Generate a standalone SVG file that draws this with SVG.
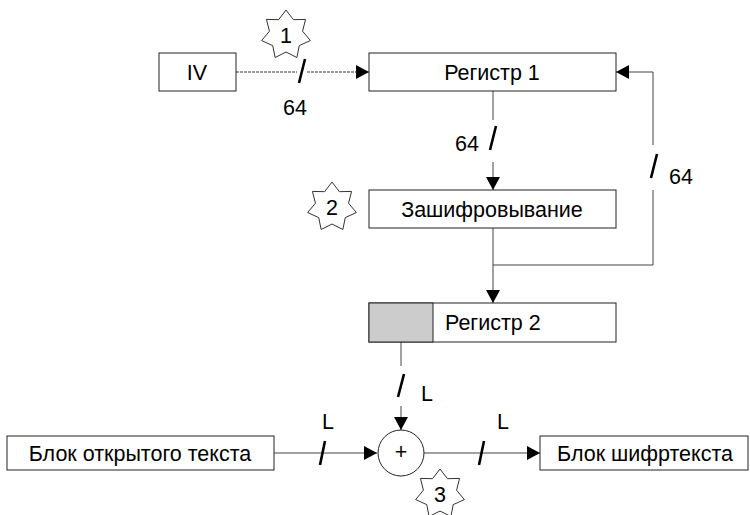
<svg xmlns="http://www.w3.org/2000/svg" width="750" height="515" viewBox="0 0 750 515">
<style>
.box{fill:#fff;stroke:#222;stroke-width:1}
.ln{fill:none;stroke:#444;stroke-width:1}
.dash{fill:none;stroke:#333;stroke-width:1;stroke-dasharray:3,1}
.sl{stroke:#000;stroke-width:2.6;stroke-linecap:butt}
.t{font-family:"Liberation Sans",Arial,sans-serif;font-size:21.5px;fill:#000}
.star{fill:#fff;stroke:#333;stroke-width:1}
</style>
<defs>
<marker id="ah" markerWidth="14" markerHeight="14" viewBox="0 0 14 14" refX="13" refY="7" orient="auto" markerUnits="userSpaceOnUse">
<path d="M0,0 L13,7 L0,14 Z" fill="#000"/>
</marker>
<polygon id="star" points="0,-25 7.38,-15.32 19.55,-15.59 16.57,-3.78 24.37,5.56 13.29,10.6 10.85,22.53 0,17 -10.85,22.53 -13.29,10.6 -24.37,5.56 -16.57,-3.78 -19.55,-15.59 -7.38,-15.32"/>
</defs>
<rect width="750" height="515" fill="#fff"/>

<g id="connectors">
<line class="dash" x1="236" y1="72" x2="297" y2="72"/>
<line class="dash" x1="307" y1="72" x2="369" y2="72" marker-end="url(#ah)"/>
<line class="sl" x1="305" y1="59" x2="299" y2="83"/>
<text class="t" x="295" y="115" text-anchor="middle">64</text>

<line class="ln" x1="493" y1="91" x2="493" y2="120"/>
<line class="sl" x1="496" y1="126" x2="490" y2="150"/>
<line class="ln" x1="493" y1="162" x2="493" y2="190" marker-end="url(#ah)"/>
<text class="t" x="479" y="151" text-anchor="end">64</text>

<line class="ln" x1="493" y1="228" x2="493" y2="303" marker-end="url(#ah)"/>
<polyline class="ln" points="493,265 653,265 653,190"/>
<line class="sl" x1="657" y1="154" x2="651" y2="178"/>
<polyline class="ln" points="653,145 653,72 616,72" marker-end="url(#ah)"/>
<text class="t" x="669" y="184">64</text>

<line class="ln" x1="401" y1="342" x2="401" y2="366"/>
<line class="sl" x1="404" y1="374" x2="398" y2="397"/>
<line class="ln" x1="401" y1="406" x2="401" y2="430" marker-end="url(#ah)"/>
<text class="t" x="421" y="401">L</text>

<polyline class="ln" points="274,453 377,453" marker-end="url(#ah)"/>
<line class="sl" x1="325" y1="441" x2="320" y2="465"/>
<text class="t" x="322" y="429">L</text>

<polyline class="ln" points="424,453 540,453" marker-end="url(#ah)"/>
<line class="sl" x1="484" y1="441" x2="479" y2="465"/>
<text class="t" x="497" y="429">L</text>
</g>

<g id="iv"><rect class="box" x="159" y="53" width="77" height="38"/><text class="t" x="197" y="80" text-anchor="middle">IV</text></g>
<g id="reg1"><rect class="box" x="369" y="53" width="247" height="38"/><text class="t" x="492" y="80" text-anchor="middle">Регистр 1</text></g>
<g id="enc"><rect class="box" x="369" y="190" width="247" height="38"/><text class="t" x="492" y="217" text-anchor="middle">Зашифровывание</text></g>
<g id="reg2"><rect class="box" x="369" y="303" width="247" height="39"/><rect x="369" y="303" width="64" height="39" fill="#cccccc" stroke="#222"/><text class="t" x="445" y="330">Регистр 2</text></g>
<g id="plain"><rect class="box" x="7" y="436" width="267" height="34"/><text class="t" x="140" y="461" text-anchor="middle">Блок открытого текста</text></g>
<g id="xor"><circle cx="401" cy="453" r="23" fill="#fff" stroke="#222"/><text class="t" x="401" y="459" text-anchor="middle" font-size="15">+</text></g>
<g id="cipher"><rect class="box" x="540" y="436" width="208" height="34"/><text class="t" x="645" y="461" text-anchor="middle">Блок шифртекста</text></g>

<g id="star1"><use href="#star" class="star" x="286" y="35"/><text class="t" x="286" y="43" text-anchor="middle">1</text></g>
<g id="star2"><use href="#star" class="star" x="332" y="207"/><text class="t" x="332" y="215" text-anchor="middle">2</text></g>
<g id="star3"><use href="#star" class="star" x="440" y="494"/><text class="t" x="440" y="502" text-anchor="middle">3</text></g>
</svg>
